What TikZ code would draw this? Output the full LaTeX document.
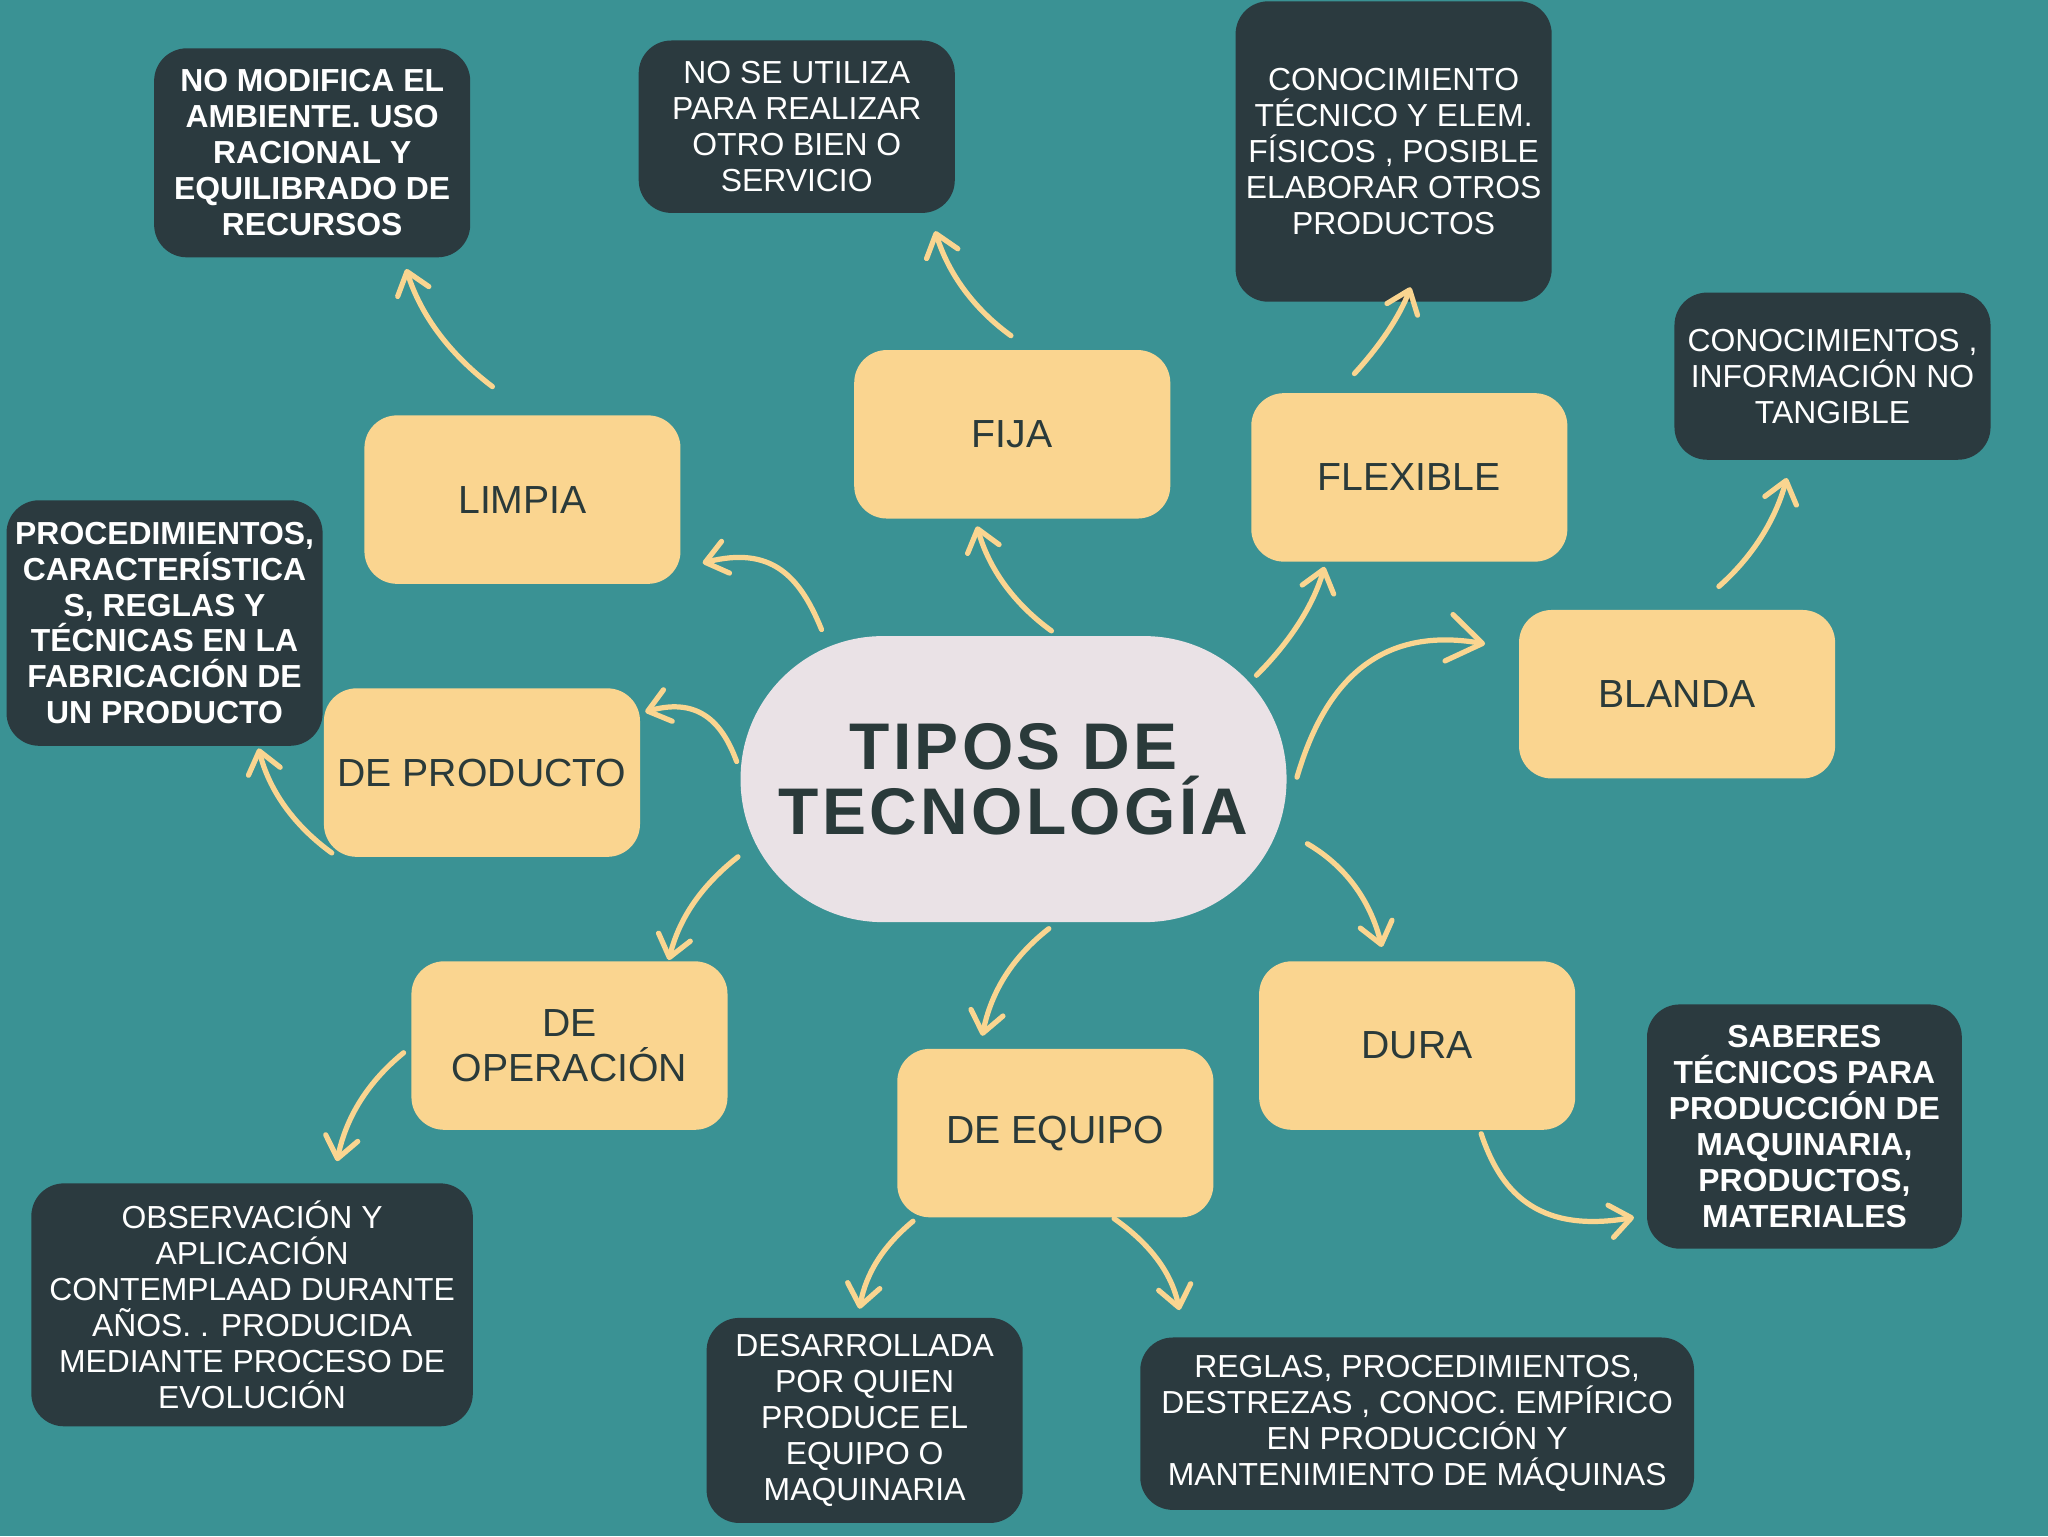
\documentclass[tikz,border=0pt]{standalone}
\usepackage{fontspec}
\setmainfont{Liberation Sans}
\newfontfamily\titlefont[LetterSpace=5.0]{Liberation Sans}
\usetikzlibrary{arrows.meta}
\definecolor{bgteal}{HTML}{3A9294}
\definecolor{drk}{HTML}{2B3A3F}
\definecolor{yel}{HTML}{FAD590}
\definecolor{ctr}{HTML}{EAE2E6}
\definecolor{txt}{HTML}{2A3A3A}
\tikzset{
  ybox/.style={fill=yel, rounded corners=25pt, minimum width=242pt, minimum height=129pt,
    inner sep=0pt, align=center, text=txt, font=\fontsize{30}{35}\selectfont},
  dbox/.style={fill=drk, rounded corners=25pt, inner sep=0pt, align=center, text=white,
    font=\fontsize{24.4}{27.5}\selectfont},
  dboxb/.style={dbox, font=\fontsize{24.4}{27.5}\selectfont\bfseries},
  arr/.style={draw=yel, line width=4pt, line cap=round,
    -{Straight Barb[length=16pt,width=25pt,round]}},
  bigarr/.style={draw=yel, line width=4pt, line cap=round,
    -{Straight Barb[length=26pt,width=36pt,round]}}
}
\begin{document}
\begin{tikzpicture}[x=1pt,y=-1pt]
\useasboundingbox (0,0) rectangle (1568,1176);
\fill[bgteal] (0,0) rectangle (1568,1176);

% centre
\node[fill=ctr, rounded corners=109pt, minimum width=418pt, minimum height=219pt, inner sep=0pt,
  align=center, text=txt, font=\titlefont\bfseries\fontsize{50.5}{50}\selectfont]
  (tit) at (776,596.5) {TIPOS DE\\TECNOLOGÍA};

% yellow boxes
\node[ybox] (limpia) at (400,382.5) {LIMPIA};
\node[ybox] (fija) at (775,332.5) {FIJA};
\node[ybox] (flexible) at (1079,365.5) {FLEXIBLE};
\node[ybox] (blanda) at (1284,531.5) {BLANDA};
\node[ybox] (producto) at (369,591.5) {DE PRODUCTO};
\node[ybox] (operacion) at (436,800.5) {DE\\OPERACIÓN};
\node[ybox] (equipo) at (808,867.5) {DE EQUIPO};
\node[ybox] (dura) at (1085,800.5) {DURA};

% dark boxes
\node[dboxb, minimum width=242pt, minimum height=160pt] (dlimpia) at (239,117)
  {NO MODIFICA EL\\AMBIENTE. USO\\RACIONAL Y\\EQUILIBRADO DE\\RECURSOS};
\node[dbox, minimum width=242pt, minimum height=132pt] (dfija) at (610,97)
  {NO SE UTILIZA\\PARA REALIZAR\\OTRO BIEN O\\SERVICIO};
\node[dbox, minimum width=242pt, minimum height=230pt] (dflex) at (1067,116)
  {CONOCIMIENTO\\TÉCNICO Y ELEM.\\FÍSICOS , POSIBLE\\ELABORAR OTROS\\PRODUCTOS};
\node[dbox, minimum width=242pt, minimum height=128pt] (dblanda) at (1403,288)
  {CONOCIMIENTOS ,\\INFORMACIÓN NO\\TANGIBLE};
\node[dboxb, minimum width=242pt, minimum height=188pt] (dproducto) at (126,477)
  {PROCEDIMIENTOS,\\CARACTERÍSTICA\\S, REGLAS Y\\TÉCNICAS EN LA\\FABRICACIÓN DE\\UN PRODUCTO};
\node[dbox, minimum width=338pt, minimum height=186pt] (doper) at (193,999)
  {OBSERVACIÓN Y\\APLICACIÓN\\CONTEMPLAAD DURANTE\\AÑOS. . PRODUCIDA\\MEDIANTE PROCESO DE\\EVOLUCIÓN};
\node[dbox, minimum width=242pt, minimum height=157pt] (dequipoa) at (662,1087.5)
  {DESARROLLADA\\POR QUIEN\\PRODUCE EL\\EQUIPO O\\MAQUINARIA};
\node[dbox, minimum width=424pt, minimum height=132pt] (dequipob) at (1085,1090)
  {REGLAS, PROCEDIMIENTOS,\\DESTREZAS , CONOC. EMPÍRICO\\EN PRODUCCIÓN Y\\MANTENIMIENTO DE MÁQUINAS};
\node[dboxb, minimum width=241pt, minimum height=187pt] (ddura) at (1381.5,862.5)
  {SABERES\\TÉCNICOS PARA\\PRODUCCIÓN DE\\MAQUINARIA,\\PRODUCTOS,\\MATERIALES};

% connector end points
\coordinate (s1) at (377,296);  \coordinate (e1) at (311,206);
\coordinate (s2) at (774,257);  \coordinate (e2) at (716,177);
\coordinate (s3) at (1037,286); \coordinate (e3) at (1080,220);
\coordinate (s4) at (1316,449); \coordinate (e4) at (1368,366);
\coordinate (s5) at (629,482);  \coordinate (e5) at (538,431);
\coordinate (s6) at (805,483);  \coordinate (e6) at (748,403);
\coordinate (s7) at (962,517);  \coordinate (e7) at (1014,434);
\coordinate (s8) at (993,595);  \coordinate (e8) at (1137,493);
\coordinate (s9) at (564,583);  \coordinate (e9) at (494,545);
\coordinate (s10) at (254,653); \coordinate (e10) at (198,573);
\coordinate (s11) at (565,656); \coordinate (e11) at (512,735);
\coordinate (s12) at (309,806); \coordinate (e12) at (258,889);
\coordinate (s13) at (803,711); \coordinate (e13) at (752,793);
\coordinate (s14) at (699,935); \coordinate (e14) at (658,1002);
\coordinate (s15) at (853,933); \coordinate (e15) at (903,1003);
\coordinate (s16) at (1001,646);\coordinate (e16) at (1058,725);
\coordinate (s17) at (1134,868);\coordinate (e17) at (1251,932);

\draw[arr] (s1) .. controls (344,271) and (322,241) .. (e1);
\draw[arr] (s2) .. controls (745,236) and (726,209) .. (e2);
\draw[arr] (s3) .. controls (1058,263) and (1072,241) .. (e3);
\draw[arr] (s4) .. controls (1341,427) and (1359,399) .. (e4);
\draw[arr] (s5) .. controls (612,440) and (590,418) .. (e5);
\draw[arr] (s6) .. controls (776,462) and (757,435) .. (e6);
\draw[arr] (s7) .. controls (989,490) and (1006,462) .. (e7);
\draw[bigarr] (s8) .. controls (1012,530) and (1050,478) .. (e8);
\draw[arr] (s9) .. controls (554,556) and (537,533) .. (e9);
\draw[arr] (s10) .. controls (225,632) and (206,605) .. (e10);
\draw[arr] (s11) .. controls (537,678) and (520,703) .. (e11);
\draw[arr] (s12) .. controls (282,828) and (265,855) .. (e12);
\draw[arr] (s13) .. controls (775,733) and (759,759) .. (e13);
\draw[arr] (s14) .. controls (676,954) and (663,975) .. (e14);
\draw[arr] (s15) .. controls (880,952) and (897,974) .. (e15);
\draw[arr] (s16) .. controls (1030,663) and (1049,689) .. (e16);
\draw[arr] (s17) .. controls (1148,910) and (1175,945) .. (e17);
\end{tikzpicture}
\end{document}
